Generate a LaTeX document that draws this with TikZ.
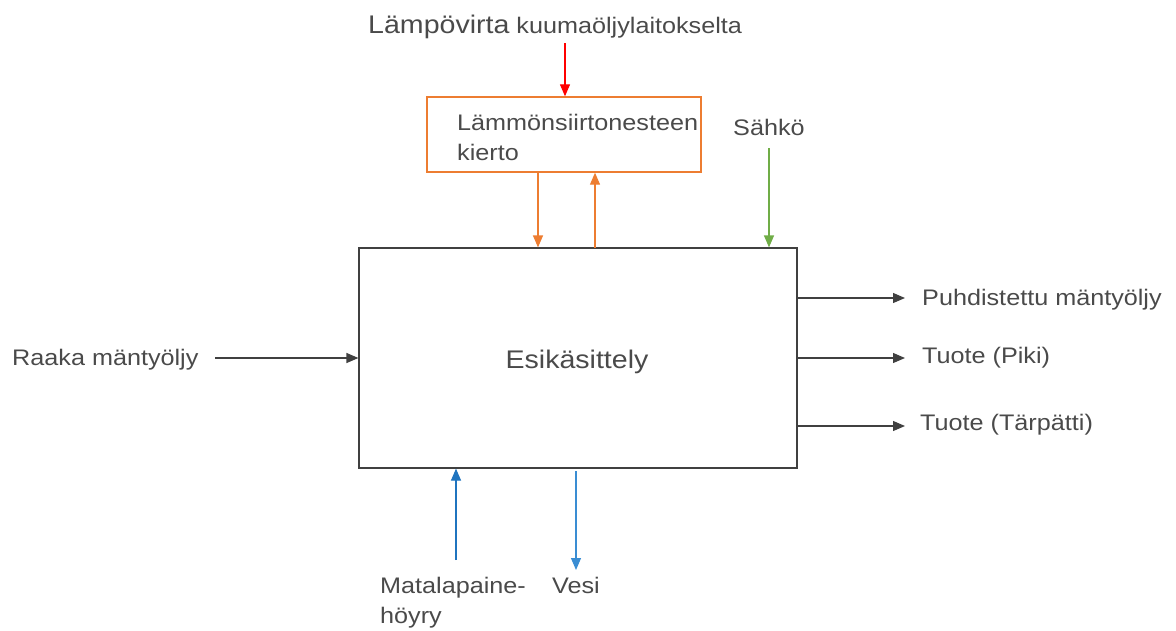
\documentclass[tikz,border=0pt]{standalone}
\usepackage{fontspec}
\setmainfont[FakeStretch=1.12]{Liberation Sans}
\usetikzlibrary{arrows.meta}
\definecolor{linegray}{HTML}{404040}
\definecolor{txtgray}{HTML}{4A4A4A}
\definecolor{heatred}{HTML}{FF0000}
\definecolor{oilorange}{HTML}{ED7D31}
\definecolor{powergreen}{HTML}{70AD47}
\definecolor{steamblue}{HTML}{1F74BF}
\definecolor{waterblue}{HTML}{3A8DD3}
\tikzset{
  x=1pt, y=-1pt,
  flow/.style={line width=1.2pt, -{Triangle[length=12pt,width=10pt]}},
  lbl/.style={text=txtgray, inner sep=0pt, anchor=base west, font=\fontsize{22.5}{30}\selectfont},
  biglbl/.style={text=txtgray, inner sep=0pt, font=\fontsize{25.5}{30}\selectfont},
}
\begin{document}
\begin{tikzpicture}
\useasboundingbox (0,0) rectangle (1176,630);

% process blocks
\node[draw=linegray, line width=1.2pt, minimum width=438pt, minimum height=220pt, inner sep=0pt]
  (main) at (578,358) {};
\node[biglbl, anchor=base] (mainlbl) at (577,368) {Esikäsittely};
\node[draw=oilorange, line width=1.4pt, minimum width=274pt, minimum height=75pt, inner sep=0pt]
  (loop) at (564,134.5) {};
\node[lbl] (looplbl) at (457,130) {Lämmönsiirtonesteen};
\node[lbl] (looplbl2) at (457,160) {kierto};

% heat source
\node[lbl] (heat) at (368,33) {{\fontsize{25.5}{30}\selectfont Lämpövirta} kuumaöljylaitokselta};
\coordinate (heatIn) at (565,43);
\draw[flow, heatred] (heatIn) -- (heatIn |- loop.north);

% heat transfer loop
\coordinate (loopOut) at (538,172);
\coordinate (loopRet) at (595,248);
\draw[flow, oilorange] (loopOut) -- (loopOut |- main.north);
\draw[flow, oilorange] (loopRet) -- (loopRet |- loop.south);

% electricity
\node[lbl] (power) at (733,135) {Sähkö};
\coordinate (powerIn) at (769,148);
\draw[flow, powergreen] (powerIn) -- (powerIn |- main.north);

% raw material
\node[lbl] (raw) at (12,365) {Raaka mäntyöljy};
\coordinate (rawIn) at (215,358);
\draw[flow, linegray] (rawIn) -- (rawIn -| main.west);

% products
\node[lbl] (p1) at (922,305) {Puhdistettu mäntyöljy};
\node[lbl] (p2) at (922,363) {Tuote (Piki)};
\node[lbl] (p3) at (920,430) {Tuote (Tärpätti)};
\coordinate (o1) at (905,298);
\coordinate (o2) at (905,358);
\coordinate (o3) at (905,426);
\draw[flow, linegray] (o1 -| main.east) -- (o1);
\draw[flow, linegray] (o2 -| main.east) -- (o2);
\draw[flow, linegray] (o3 -| main.east) -- (o3);

% steam in, water out
\node[lbl] (steam) at (380,593) {Matalapaine-};
\node[lbl] (steam2) at (380,623) {höyry};
\coordinate (steamIn) at (456,560);
\draw[flow, steamblue] (steamIn) -- (steamIn |- main.south);
\node[lbl] (water) at (552,593) {Vesi};
\coordinate (waterOut) at (576,570);
\draw[flow, waterblue] (576,471) -- (waterOut);
\end{tikzpicture}
\end{document}
